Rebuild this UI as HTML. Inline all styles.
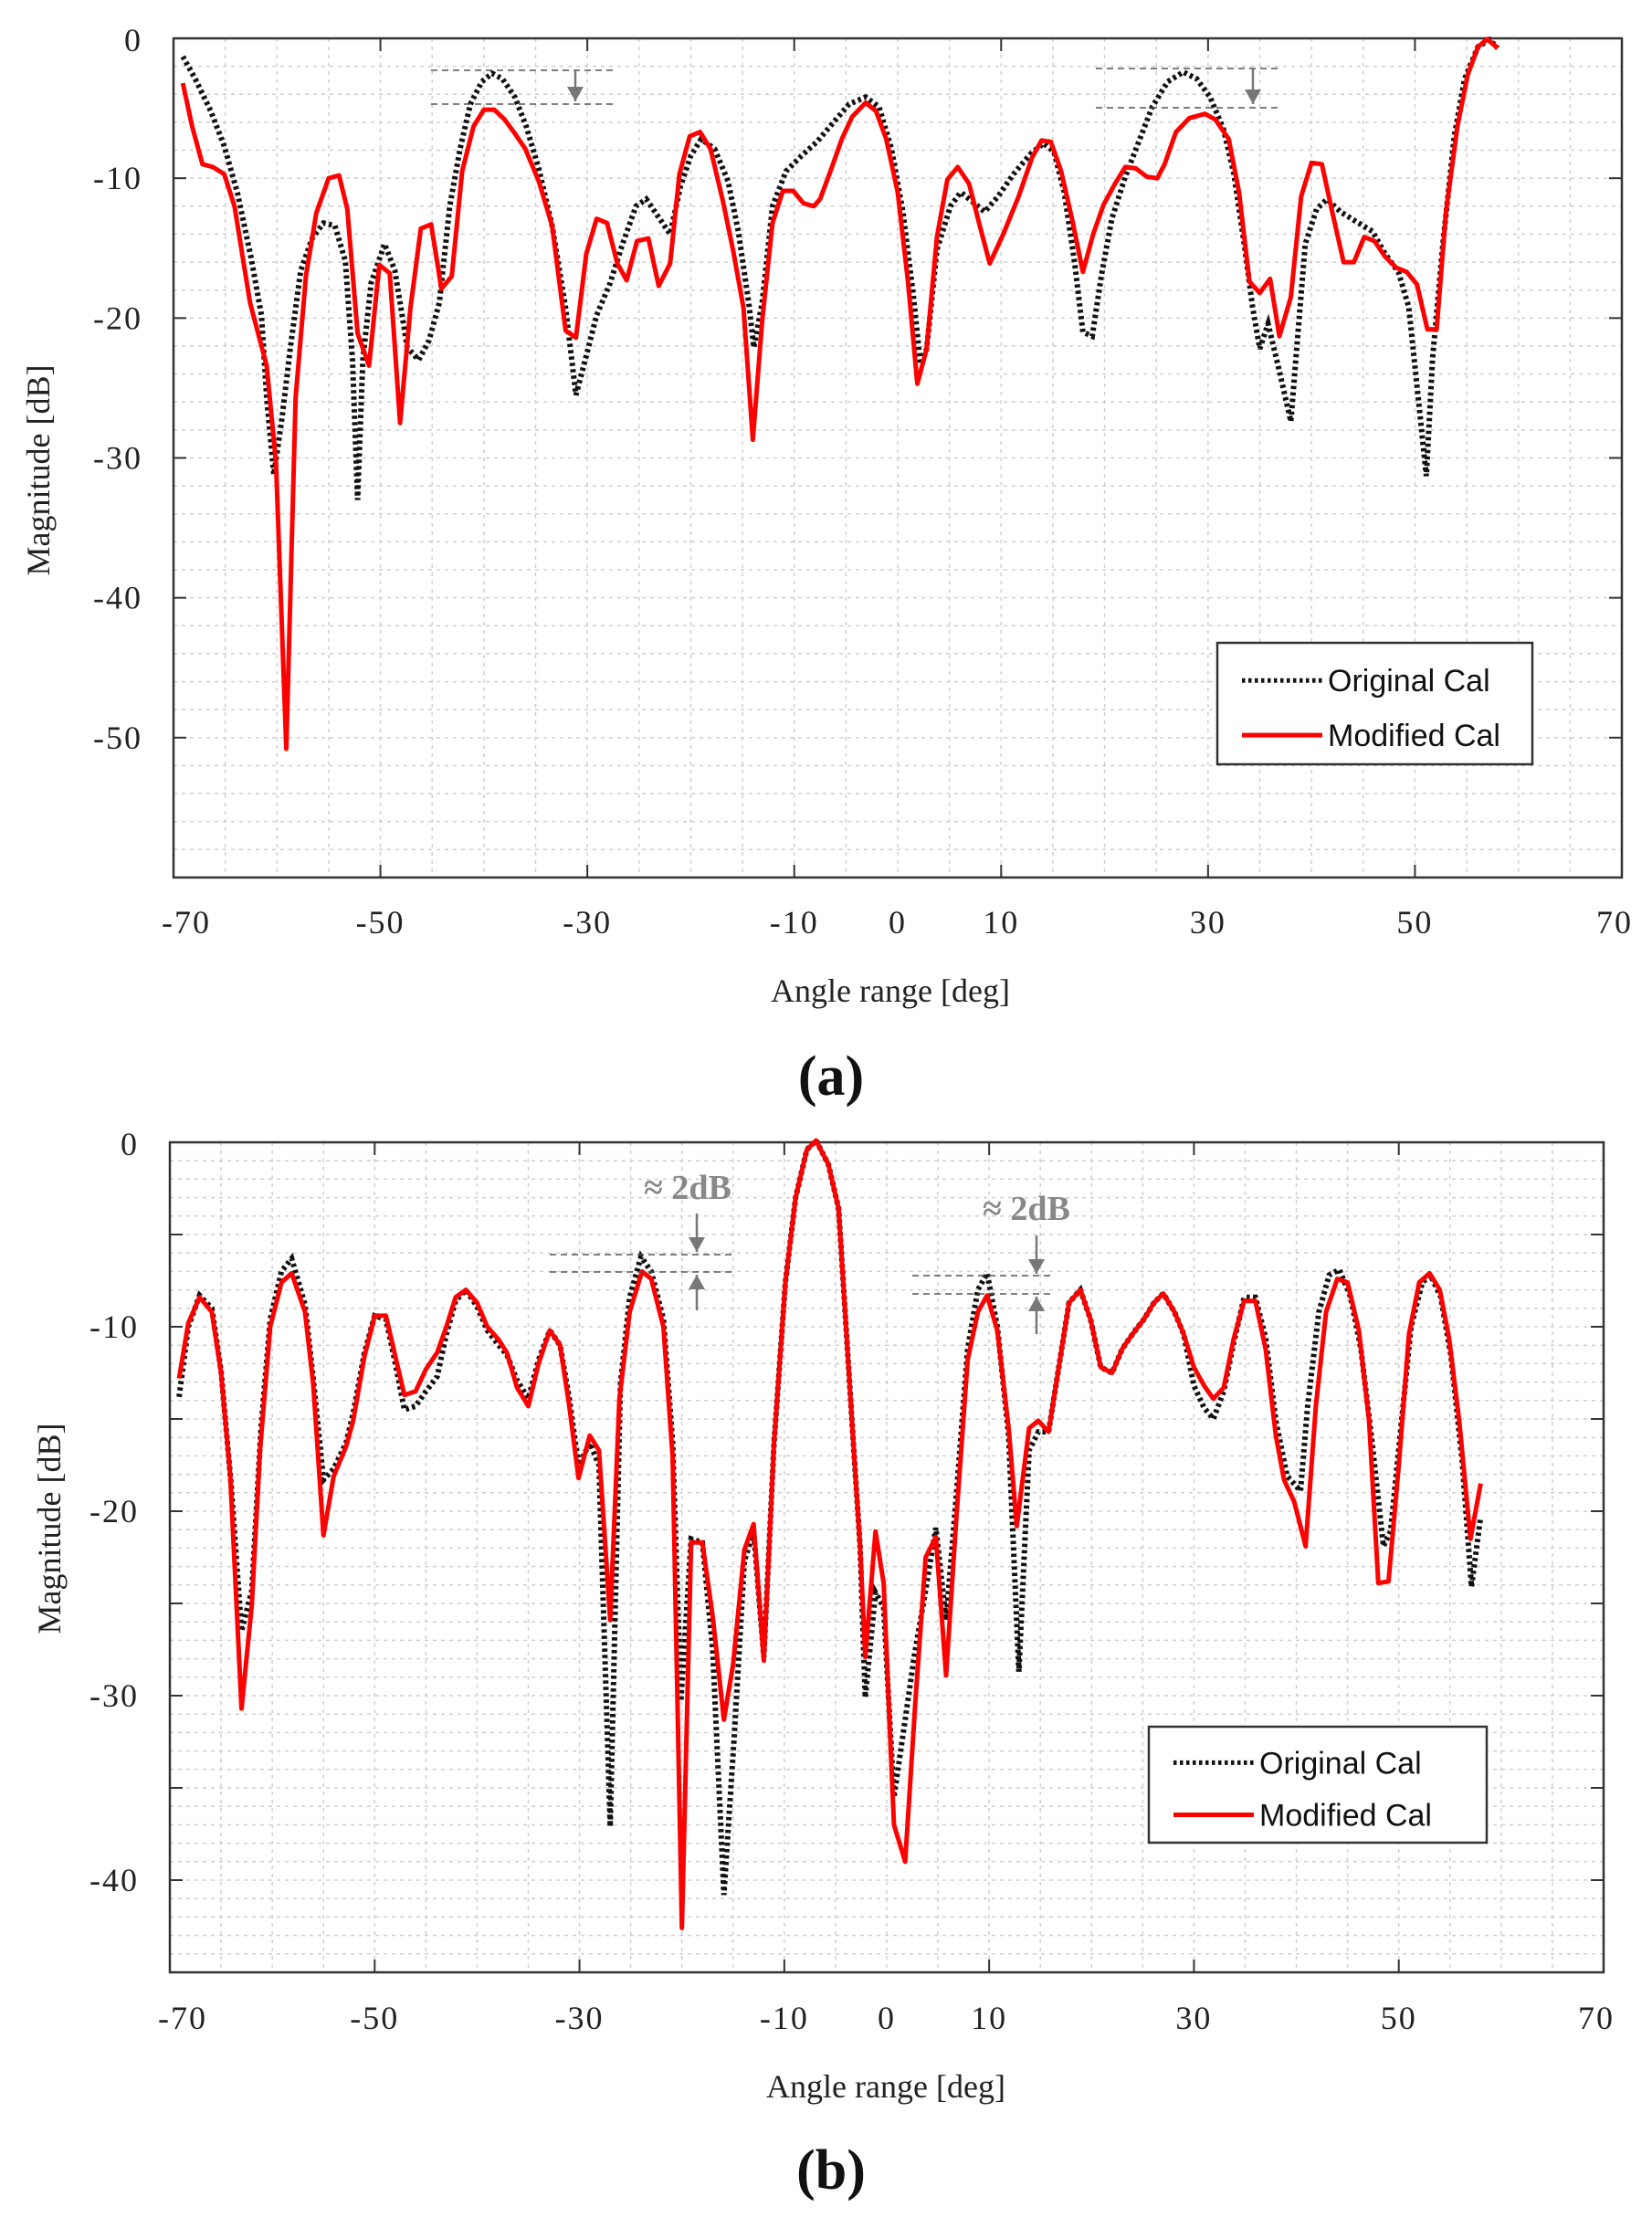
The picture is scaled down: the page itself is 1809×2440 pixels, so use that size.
<!DOCTYPE html>
<html><head><meta charset="utf-8"><style>
html,body{margin:0;padding:0;background:#fff;}
svg{display:block;}
text{font-family:"Liberation Serif",serif;}
.sans{font-family:"Liberation Sans",sans-serif;}
</style></head>
<body>
<svg id="fig" width="1809" height="2440" viewBox="0 0 1809 2440" xmlns="http://www.w3.org/2000/svg">
<rect x="0" y="0" width="1809" height="2440" fill="#fff"/>
</svg>
<script>
// ---- Data ----
const xTickLabels = [-70,-50,-30,-10,0,10,30,50,70];
const aYTickLabels = [0,-10,-20,-30,-40,-50];
const bYTickLabels = [0,-10,-20,-30,-40];

const aModAngle = [-69.1,-68.2,-67.2,-66.2,-65.1,-64.1,-62.6,-61,-60.1,-59.1,-58.2,-57.2,-56.2,-55,-54,-53.2,-52.2,-51.1,-50.1,-49.1,-48.1,-47.1,-46.1,-45.1,-44.1,-43.1,-42.1,-41,-40,-39,-38,-37,-36,-34.7,-33.4,-32.1,-31.1,-30.1,-29.1,-28.1,-27.1,-26.2,-25.2,-24.1,-23.1,-22,-21.1,-20.1,-19.1,-18.1,-16.9,-15.9,-14.9,-14,-13.1,-12.1,-11.1,-10.1,-9.1,-8.1,-7.5,-6.5,-5.4,-4.4,-3.1,-2.1,-1.1,0,1,1.9,2.8,3.8,4.8,5.8,6.9,7.9,8.9,10.2,11.7,13,13.9,14.8,15.8,16.9,17.9,18.9,19.9,21,22,23,24.1,25.1,25.8,26.9,28.2,29.7,30.7,32,33,34,35,36,36.9,38,39,40,41,42,43.1,44.1,45.1,46.1,47.1,48.2,49.2,50.2,51.2,52.1,53,54.1,55.1,56.1,57,58];
const aModMag = [-3.2,-6.3,-9,-9.2,-9.7,-12,-18.9,-23.4,-30.3,-50.8,-25.7,-17,-12.5,-10,-9.8,-12.2,-21.1,-23.4,-16.2,-16.8,-27.5,-19.3,-13.6,-13.3,-17.9,-17,-9.5,-6.3,-5.1,-5.1,-5.8,-6.8,-7.9,-10.2,-13.4,-20.9,-21.4,-15.4,-12.9,-13.2,-16.1,-17.3,-14.5,-14.3,-17.7,-16.1,-9.7,-7,-6.7,-7.9,-11.6,-15.2,-19.3,-28.7,-20.2,-13.2,-10.9,-10.9,-11.8,-12,-11.5,-9.5,-7.2,-5.6,-4.6,-5.2,-7.2,-11,-17.4,-24.7,-22.2,-14.2,-10.1,-9.2,-10.4,-13.3,-16.1,-14,-11.3,-8.5,-7.3,-7.4,-9.5,-13.1,-16.7,-14,-11.9,-10.4,-9.2,-9.3,-9.9,-10,-9,-6.7,-5.7,-5.4,-5.8,-7.2,-11,-17.4,-18.2,-17.2,-21.3,-18.5,-11.3,-8.9,-9,-12.4,-16,-16,-14.2,-14.5,-15.6,-16.4,-16.7,-17.6,-20.8,-20.8,-12.4,-6.3,-2.6,-0.6,-0.05,-0.7];

const aOrigAngle = [-69.1,-67.9,-66.4,-65.1,-63.8,-62.5,-61.5,-61,-60.3,-59.5,-58.7,-57.7,-56.6,-55.5,-54.4,-53.4,-52.7,-52.2,-51.7,-50.9,-49.6,-48.6,-47.4,-46.3,-45.3,-44.3,-43.3,-42.3,-41.3,-40.2,-39.2,-38.2,-37,-35.9,-34.7,-33.4,-32.1,-31.1,-30.1,-29.1,-27.8,-26.6,-25.3,-24.3,-23,-22,-21,-20,-19,-17.7,-16.4,-15.4,-14.4,-13.9,-13.1,-12.1,-10.8,-9.3,-7.8,-6.2,-4.7,-3.1,-1.8,-0.6,0.5,1.5,2.2,2.8,3.8,5.1,6.1,7.1,8.4,9.7,11.2,12.8,14.1,15.1,16.1,17.1,17.9,18.8,19.7,20.7,22,23.3,24.6,26.1,27.6,28.9,30.2,31.5,32.5,33.5,34.3,35,35.8,36.9,38,38.7,39.4,40.5,41.5,42.8,44.3,45.9,47.1,48.4,49.4,50.5,51.1,51.7,52.7,53.8,54.8,56.1,57.2,58];
const aOrigMag = [-1.3,-2.9,-5.2,-7.7,-11.1,-15.7,-19.8,-25.7,-31.2,-27.1,-22.1,-16.6,-14.3,-13.2,-13.4,-15.9,-23,-33,-23,-17.5,-14.7,-16.6,-22.1,-23,-21.6,-18.9,-12,-7.9,-4.7,-3.1,-2.5,-2.9,-4.2,-6.3,-9.3,-13.4,-19.3,-25.5,-22.7,-19.8,-17.5,-14.7,-12,-11.5,-12.9,-14,-10.6,-8.4,-7.2,-7.9,-10.2,-13.8,-18.9,-22.1,-18.9,-12,-9.5,-8.4,-7.4,-6,-4.7,-4.2,-4.9,-7.9,-12.4,-18.3,-23.3,-22.2,-15.1,-12,-11,-11.6,-12.4,-11.3,-9.7,-8.3,-7.5,-8.1,-11,-16,-21,-21.3,-16.9,-12.9,-9.9,-7.4,-4.9,-3.1,-2.4,-2.9,-4.2,-6.5,-9.7,-14.7,-19.2,-22.2,-20.4,-23.8,-27.4,-21,-14.7,-12.2,-11.5,-12.4,-13.1,-13.8,-15.4,-16.7,-19.2,-27,-31.3,-22.9,-14.7,-7,-2.9,-0.6,-0.1,-0.7];

const bModAngle = [-69.1,-68.2,-67.1,-65.9,-65,-64.1,-63,-62,-61.2,-60.2,-59.1,-58.1,-56.8,-56,-55,-54,-52.8,-52.1,-51,-50,-48.9,-47.9,-47.1,-46,-45,-43.9,-43,-42.1,-41.1,-40,-39,-37.9,-37.1,-36.1,-35,-34,-32.9,-31.9,-31,-30.1,-29,-28.1,-27,-26.1,-25.1,-23.9,-23,-21.8,-20.9,-20,-19.1,-18,-17,-15.9,-15,-13.9,-13,-12,-11,-9.9,-8.9,-7.8,-6.9,-5.7,-4.7,-4.2,-3.4,-2.6,-2.1,-1.1,-0.3,0.7,1.8,2.8,3.8,4.8,5.8,6.8,7.9,8.9,9.8,10.8,11.9,12.7,13.9,14.8,15.8,16.8,17.8,18.9,19.9,20.9,22,23,24,25.1,26.1,27,28.1,29,30,31,31.9,32.9,33.9,34.9,36,37,38,38.8,39.8,40.9,41.9,42.9,44,45,46.1,47.1,48,49,50,51,52,53,54,54.9,55.9,57,58];
const bModMag = [-12.8,-9.8,-8.4,-9.2,-12.5,-18.1,-30.7,-25.1,-16.7,-10,-7.6,-7.1,-9.2,-13.1,-21.3,-18.1,-16.5,-15.1,-11.6,-9.4,-9.4,-11.8,-13.7,-13.5,-12.3,-11.4,-10,-8.4,-8,-8.7,-10,-10.7,-11.4,-13.3,-14.3,-12,-10.2,-11,-14.3,-18.2,-15.9,-16.7,-25.9,-13.9,-9.2,-7,-7.4,-10,-17.1,-42.6,-21.7,-21.7,-25.7,-31.3,-28.3,-22.1,-20.7,-28.1,-16.3,-7.6,-3,-0.4,0.1,-1.2,-3.6,-8,-15.1,-21.9,-27.9,-21.1,-23.9,-37,-39,-30.3,-22.5,-21.4,-28.9,-20.3,-11.8,-9.2,-8.3,-10.2,-15.5,-20.8,-15.5,-15.1,-15.7,-12.2,-8.7,-8,-9.6,-12.2,-12.5,-11.2,-10.4,-9.6,-8.7,-8.2,-9.2,-10.4,-12.2,-13.2,-13.9,-13.3,-10.6,-8.6,-8.6,-11.2,-15.9,-18.3,-19.5,-21.9,-14.3,-9.2,-7.4,-7.6,-10.2,-15.1,-23.9,-23.8,-17.5,-10.4,-7.6,-7.1,-8,-10.6,-15.1,-21.5,-18.5];

const bOrigAngle = [-69.1,-68.2,-67.1,-65.9,-65,-64,-63,-62,-61.1,-60.2,-59.1,-58.1,-56.8,-56,-55,-54,-52.8,-52.1,-51,-50,-48.9,-47.9,-47.1,-46,-45,-43.9,-43,-42.1,-41.1,-40,-39,-37.9,-37.1,-36.1,-35,-34,-32.9,-31.9,-31,-30.1,-29,-28.1,-27,-26,-25.1,-24,-23,-21.8,-20.9,-20.1,-19.1,-18,-17,-15.9,-14.9,-13.9,-13,-12,-11,-9.9,-8.9,-7.8,-6.9,-5.7,-4.7,-4.2,-3.4,-2.6,-2.1,-1.1,-0.3,0.7,1.8,2.7,3.8,4.8,5.8,6.8,7.9,8.9,9.8,10.8,11.9,12.9,13.9,14.8,15.8,16.8,17.8,18.9,19.9,20.9,22,23,24,25.1,26.1,27,28.1,29,30,31,31.9,32.9,33.9,34.9,36,37,38,39.1,40.4,41.1,42.2,43.2,44.2,45.3,46.3,47.4,48.5,49.2,50.2,51.2,52.3,53.1,54.1,55.1,56.2,57.1,58];
const bOrigMag = [-13.8,-10,-8.3,-9,-12.4,-18.7,-26.5,-24.3,-15.5,-9.6,-7,-6.3,-8.8,-12.8,-18.3,-17.7,-16.3,-14.7,-11.4,-9.4,-9.6,-12.2,-14.5,-14.3,-13.5,-12.7,-10.4,-8.6,-8,-8.9,-10.2,-11,-11.5,-12.9,-13.9,-11.8,-10.2,-11,-13.9,-17.5,-16.3,-17.5,-37.1,-13.1,-8.4,-6.2,-7,-9.6,-16.3,-30.3,-21.5,-21.7,-27.5,-40.8,-32.3,-22.7,-21.1,-27.9,-16.3,-7.6,-3,-0.4,0.1,-1.2,-3.6,-8,-15.1,-21.9,-30.1,-24.4,-25.2,-35.5,-31.3,-27.8,-24.3,-20.9,-25.9,-19.1,-11.2,-8,-7.1,-10,-15.9,-28.7,-16.7,-15.7,-15.7,-12.2,-8.7,-8,-9.6,-12.2,-12.5,-11.2,-10.4,-9.6,-8.7,-8.2,-9.2,-10.4,-13.2,-14.4,-15,-13.5,-10.8,-8.4,-8.4,-10.6,-15.1,-18.1,-18.9,-14.3,-9.2,-7.2,-6.9,-8.4,-11.2,-16.3,-21.9,-21.1,-15.5,-10,-7.6,-7.2,-8.4,-11.6,-17.3,-24.1,-20.3];

// ---- Rendering ----
const NS = "http://www.w3.org/2000/svg";
const svg = document.getElementById('fig');
function el(tag, attrs, parent){
  const e = document.createElementNS(NS, tag);
  for (const k in attrs) e.setAttribute(k, attrs[k]);
  (parent||svg).appendChild(e);
  return e;
}
function linScale(d0,d1,p0,p1){ return v => p0 + (v-d0)/(d1-d0)*(p1-p0); }

function drawChart(cfg){
  const g = el('g', {});
  
  
  const X = linScale(-70, 70, cfg.left, cfg.right);
  const Y = linScale(0, cfg.ymin, cfg.top, cfg.bottom);
  for (let v=-65; v<70; v+=5){
    const l = el('line', {x1:X(v), x2:X(v), y1:cfg.top, y2:cfg.bottom, stroke:'#cfcfcf', 'stroke-width':1.5, 'stroke-dasharray':'4 5'}, g);
    
    
  }
  for (let v=-cfg.ystep; v>cfg.ymin; v-=cfg.ystep){
    const l = el('line', {x1:cfg.left, x2:cfg.right, y1:Y(v), y2:Y(v), stroke:'#cfcfcf', 'stroke-width':1.5, 'stroke-dasharray':'4 5'}, g);
    
    
  }
  const fr = el('rect', {x:cfg.left, y:cfg.top, width:cfg.right-cfg.left, height:cfg.bottom-cfg.top, fill:'none', stroke:'#333', 'stroke-width':2.5}, g);
  
  
  [-50,-30,-10,10,30,50].forEach(v=>{
    const t1 = el('line', {x1:X(v), x2:X(v), y1:cfg.bottom, y2:cfg.bottom-14, stroke:'#333', 'stroke-width':2}, g);
    
    
    const t2 = el('line', {x1:X(v), x2:X(v), y1:cfg.top, y2:cfg.top+14, stroke:'#333', 'stroke-width':2}, g);
    
    
  });
  xTickLabels.forEach(v=>{
    const t = el('text', {x:X(v)+(v===-70?14:0)+(v===70?-8:0), y:cfg.xLabelY, 'font-size':36, 'text-anchor':'middle', fill:'#222', 'letter-spacing':2}, g);
    
    
    t.textContent = v;
  });
  for (let v=-cfg.ytickStep; v>cfg.ymin; v-=cfg.ytickStep){
    const t1 = el('line', {x1:cfg.left, x2:cfg.left+14, y1:Y(v), y2:Y(v), stroke:'#333', 'stroke-width':2}, g);
    
    
    const t2 = el('line', {x1:cfg.right, x2:cfg.right-14, y1:Y(v), y2:Y(v), stroke:'#333', 'stroke-width':2}, g);
    
    
  }
  cfg.yLabels.forEach(v=>{
    const t = el('text', {x:cfg.left-34, y:Y(v)+(v===0?14:12), 'font-size':36, 'text-anchor':'end', fill:'#222', 'letter-spacing':2}, g);
    
    
    t.textContent = v;
  });
  const xt = el('text', {x:cfg.xTitleX, y:cfg.xTitleY, 'font-size':36, 'text-anchor':'middle', fill:'#222'}, g);
  
  
  xt.textContent = 'Angle range [deg]';
  const yt = el('text', {x:0, y:0, 'font-size':36, 'text-anchor':'middle', fill:'#222', transform:`translate(${cfg.yTitleX},${cfg.yTitleY}) rotate(-90)`}, g);
  
  
  yt.textContent = 'Magnitude [dB]';
  const cpId = 'clip-' + cfg.name;
  const cp = el('clipPath', {id:cpId}, g);
  el('rect', {x:cfg.left, y:cfg.top-6, width:cfg.right-cfg.left, height:cfg.bottom-cfg.top+6}, cp);
  const ptsO = cfg.origX.map((a,i)=>X(a).toFixed(1)+','+Y(cfg.origY[i]).toFixed(1)).join(' ');
  const so = el('polyline', {points:ptsO, fill:'none', stroke:'#111', 'stroke-width':6, 'stroke-dasharray':'3.5 3.5', 'clip-path':`url(#${cpId})`}, g);
  
  
  const ptsM = cfg.modX.map((a,i)=>X(a).toFixed(1)+','+Y(cfg.modY[i]).toFixed(1)).join(' ');
  const sm = el('polyline', {points:ptsM, fill:'none', stroke:'#ff0000', 'stroke-width':5, 'stroke-linejoin':'round', 'clip-path':`url(#${cpId})`}, g);
  
  
  const L = cfg.legend;
  const lg = el('g', {}, g);
  
  
  el('rect', {x:L.x, y:L.y, width:L.w, height:L.h, fill:'#fff', stroke:'#333', 'stroke-width':2.5}, lg);
  const l1 = el('line', {x1:L.x+27, x2:L.x+115, y1:L.y+L.h*0.31, y2:L.y+L.h*0.31, stroke:'#111', 'stroke-width':5, 'stroke-dasharray':'3.5 3.5'}, lg);
  
  
  const t1 = el('text', {x:L.x+121, y:L.y+L.h*0.31+12, 'font-size':34, fill:'#111', class:'sans'}, lg);
  
  
  t1.textContent = 'Original Cal';
  const l2 = el('line', {x1:L.x+27, x2:L.x+115, y1:L.y+L.h*0.76, y2:L.y+L.h*0.76, stroke:'#ff0000', 'stroke-width':5}, lg);
  
  
  const t2 = el('text', {x:L.x+121, y:L.y+L.h*0.76+12, 'font-size':34, fill:'#111', class:'sans'}, lg);
  
  
  t2.textContent = 'Modified Cal';
  const pl = el('text', {x:910, y:cfg.panelY, 'font-size':62, 'font-weight':'bold', 'text-anchor':'middle', fill:'#111'}, g);
  
  
  pl.textContent = cfg.panel;
  return g;
}

function annot(parent, x1, x2, yA, yB, ax, arrows, label){
  const g = el('g', {}, parent);
  
  
  [yA,yB].forEach(y=>{
    const l = el('line', {x1:x1, x2:x2, y1:y, y2:y, stroke:'#555', 'stroke-width':1.5, 'stroke-dasharray':'7 5'}, g);
    
    
  });
  arrows.forEach(a=>{
    const l = el('line', {x1:ax, x2:ax, y1:a[0], y2:a[1], stroke:'#777', 'stroke-width':2.5}, g);
    
    
    const d = a[1] > a[0] ? 1 : -1;
    const h = el('polygon', {points:`${ax-9},${a[1]-d*16} ${ax+9},${a[1]-d*16} ${ax},${a[1]}`, fill:'#777'}, g);
    
    
  });
  if (label){
    const t = el('text', {x:label.x, y:label.y, 'font-size':38, 'font-weight':'bold', fill:'#888'}, g);
    
    
    t.textContent = '\u2248 2dB';
  }
}

const gA = drawChart({name:'chart-a', left:190, right:1776, top:42, bottom:961, ymin:-60, ystep:2, ytickStep:10,
  yLabels:aYTickLabels, xLabelY:1022, xTitleX:975, xTitleY:1097, yTitleX:54, yTitleY:515,
  origX:aOrigAngle, origY:aOrigMag, modX:aModAngle, modY:aModMag,
  legend:{x:1333,y:704,w:345,h:133}, panel:'(a)', panelY:1199});
annot(gA, 472, 673, 77, 114, 630, [[77,111]], null);
annot(gA, 1200, 1401, 75, 118, 1372, [[75,114]], null);

const gB = drawChart({name:'chart-b', left:186, right:1756, top:1251, bottom:2160, ymin:-45, ystep:1, ytickStep:5,
  yLabels:bYTickLabels, xLabelY:2222, xTitleX:970, xTitleY:2297, yTitleX:66, yTitleY:1674,
  origX:bOrigAngle, origY:bOrigMag, modX:bModAngle, modY:bModMag,
  legend:{x:1258,y:1891,w:370,h:127}, panel:'(b)', panelY:2397});
annot(gB, 602, 801, 1374, 1393, 763, [[1329,1371],[1435,1396]], {x:705,y:1313});
annot(gB, 999, 1153, 1397, 1417, 1135, [[1353,1395],[1461,1420]], {x:1076,y:1336});
</script>
</body></html>
